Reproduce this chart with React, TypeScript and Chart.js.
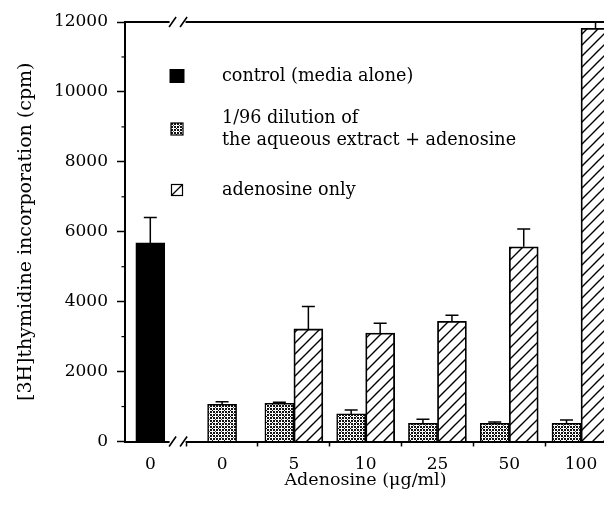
import React, { useEffect, useRef } from 'react';
import { Chart, registerables } from 'chart.js';

Chart.register(...registerables);

// ---- data ----
const categories = ['0', '0', '5', '10', '25', '50', '100'];
const controlValues = [5680, null, null, null, null, null, null];
const controlErrors = [730, null, null, null, null, null, null];
const dilutionValues = [null, 1060, 1090, 790, 520, 520, 520];
const dilutionErrors = [null, 80, 30, 110, 115, 40, 95];
const adenosineValues = [null, null, 3220, 3100, 3440, 5570, 11820];
const adenosineErrors = [null, null, 640, 280, 170, 510, 180];

const yMin = 0;
const yMax = 12000;
const yStep = 1000;
const yLabelStep = 2000;

const legendLines = [
  ['control (media alone)'],
  ['1/96 dilution of', 'the aqueous extract + adenosine'],
  ['adenosine only'],
];
const xTitle = 'Adenosine (\u03bcg/ml)';
const yTitle = '[3H]thymidine incorporation (cpm)';

const FONT = 'DejaVu Serif';

function makeDotPattern(ctx: CanvasRenderingContext2D) {
  const c = document.createElement('canvas');
  c.width = 6;
  c.height = 6;
  const g = c.getContext('2d')!;
  g.fillStyle = '#fff';
  g.fillRect(0, 0, 6, 6);
  g.fillStyle = '#111';
  g.fillRect(0, 0, 2, 2);
  g.fillRect(3, 0, 2, 2);
  g.fillRect(0, 3, 2, 2);
  g.fillRect(3, 3, 2, 2);
  g.fillRect(2, 2, 1, 1);
  g.fillStyle = '#555';
  g.fillRect(5, 5, 1, 1);
  return ctx.createPattern(c, 'repeat')!;
}

function makeHatchPattern(ctx: CanvasRenderingContext2D) {
  const s = 11;
  const c = document.createElement('canvas');
  c.width = s;
  c.height = s;
  const g = c.getContext('2d')!;
  g.fillStyle = '#fff';
  g.fillRect(0, 0, s, s);
  g.strokeStyle = '#000';
  g.lineWidth = 1.4;
  g.beginPath();
  g.moveTo(-1, s + 1);
  g.lineTo(s + 1, -1);
  g.moveTo(-s, s);
  g.lineTo(s, -s);
  g.moveTo(0, 2 * s);
  g.lineTo(2 * s, 0);
  g.stroke();
  return ctx.createPattern(c, 'repeat')!;
}

const errorBarsPlugin = {
  id: 'errorBars',
  afterDatasetsDraw(chart: any) {
    const { ctx, scales } = chart;
    ctx.save();
    ctx.strokeStyle = '#000';
    ctx.lineWidth = 1.5;
    chart.data.datasets.forEach((ds: any, di: number) => {
      const meta = chart.getDatasetMeta(di);
      meta.data.forEach((bar: any, i: number) => {
        const v = ds.data[i].y;
        const e = ds.errors[i];
        if (v == null || e == null) return;
        const yTop = scales.y.getPixelForValue(v + e);
        ctx.beginPath();
        ctx.moveTo(bar.x, bar.y);
        ctx.lineTo(bar.x, yTop);
        ctx.moveTo(bar.x - 6.5, yTop);
        ctx.lineTo(bar.x + 6.5, yTop);
        ctx.stroke();
      });
    });
    ctx.restore();
  },
};

const minorTicksPlugin = {
  id: 'minorTicks',
  afterDraw(chart: any) {
    const { ctx, scales, chartArea } = chart;
    ctx.save();
    ctx.strokeStyle = '#000';
    ctx.lineWidth = 1.2;
    scales.y.ticks.forEach((t: any) => {
      if (t.value % yLabelStep === 0) return;
      const y = scales.y.getPixelForValue(t.value);
      ctx.beginPath();
      ctx.moveTo(chartArea.left - 3.5, y);
      ctx.lineTo(chartArea.left, y);
      ctx.stroke();
    });
    ctx.restore();
  },
};

const breaksPlugin = {
  id: 'axisBreaks',
  afterDraw(chart: any) {
    const { ctx, scales, chartArea } = chart;
    const bx = scales.x.getPixelForValue(0.38);
    ctx.save();
    [chartArea.top, chartArea.bottom].forEach((y: number) => {
      ctx.fillStyle = '#fff';
      ctx.fillRect(bx - 8, y - 2.5, 16, 5);
      ctx.strokeStyle = '#000';
      ctx.lineWidth = 1.6;
      ctx.beginPath();
      [-5, 6].forEach((dx) => {
        ctx.moveTo(bx + dx - 3.5, y + 5);
        ctx.lineTo(bx + dx + 3.5, y - 5);
      });
      ctx.stroke();
    });
    ctx.restore();
  },
};

const legendPlugin = {
  id: 'insideLegend',
  afterDraw(chart: any) {
    const { ctx, chartArea } = chart;
    const sx = chartArea.left + 52;
    const tx = chartArea.left + 97;
    const rows = [chartArea.top + 54, chartArea.top + 107, chartArea.top + 168];
    ctx.save();
    ctx.font = `17.6px "${FONT}"`;
    ctx.fillStyle = '#000';
    ctx.textBaseline = 'middle';
    ctx.textAlign = 'left';
    chart.data.datasets.forEach((ds: any, i: number) => {
      const lines = ds.legendLines as string[];
      const cy = rows[i];
      const lh = 22;
      const first = cy - ((lines.length - 1) * lh) / 2;
      ctx.fillStyle = '#000';
      lines.forEach((ln, k) => ctx.fillText(ln, tx, first + k * lh));
      if (ds.swatch === 'solid') {
        ctx.fillStyle = '#000';
        ctx.fillRect(sx - 7.5, cy - 7, 15, 14);
      } else if (ds.swatch === 'dots') {
        ctx.fillStyle = ds.backgroundColor;
        ctx.fillRect(sx - 6, cy - 6, 12, 12);
        ctx.strokeStyle = '#000';
        ctx.lineWidth = 1.2;
        ctx.strokeRect(sx - 6, cy - 6, 12, 12);
      } else {
        ctx.fillStyle = '#fff';
        ctx.fillRect(sx - 5.5, cy - 5.5, 11, 11);
        ctx.strokeStyle = '#000';
        ctx.lineWidth = 1.2;
        ctx.strokeRect(sx - 5.5, cy - 5.5, 11, 11);
        ctx.beginPath();
        ctx.moveTo(sx - 5.5, cy + 5.5);
        ctx.lineTo(sx + 5.5, cy - 5.5);
        ctx.stroke();
      }
    });
    ctx.restore();
  },
};

export default function App() {
  const ref = useRef<HTMLCanvasElement>(null);

  useEffect(() => {
    const canvas = ref.current!;
    const c2d = canvas.getContext('2d')!;
    const dots = makeDotPattern(c2d);
    const hatch = makeHatchPattern(c2d);
    const toPoints = (vals: (number | null)[]) => vals.map((v, i) => ({ x: i, y: v }));

    const datasets: any[] = [
      {
        label: legendLines[0].join(' '),
        legendLines: legendLines[0],
        data: toPoints(controlValues),
        errors: controlErrors,
        backgroundColor: '#000',
        borderColor: '#000',
        borderWidth: 1.5,
        swatch: 'solid',
      },
      {
        label: legendLines[1].join(' '),
        legendLines: legendLines[1],
        data: toPoints(dilutionValues),
        errors: dilutionErrors,
        backgroundColor: dots,
        borderColor: '#000',
        borderWidth: 1.5,
        swatch: 'dots',
      },
      {
        label: legendLines[2].join(' '),
        legendLines: legendLines[2],
        data: toPoints(adenosineValues),
        errors: adenosineErrors,
        backgroundColor: hatch,
        borderColor: '#000',
        borderWidth: 1.8,
        swatch: 'hatch',
      },
    ];

    const tickFont = { family: FONT, size: 17 };

    const chart = new Chart(canvas, {
      type: 'bar',
      data: { datasets },
      options: {
        animation: false,
        responsive: true,
        maintainAspectRatio: false,
        layout: { padding: { top: 22, right: 6, left: 0, bottom: 0 } },
        plugins: { legend: { display: false }, tooltip: { enabled: false } },
        datasets: { bar: { barThickness: 29, skipNull: true, grouped: true, borderSkipped: 'start' } },
        scales: {
          x: {
            type: 'linear',
            offset: false,
            min: -0.3525,
            max: 6.348,
            afterBuildTicks: (s: any) => {
              s.ticks = categories.map((_, i) => ({ value: i }));
            },
            afterFit: (s: any) => {
              s.height = 64.5;
            },
            grid: {
              display: true,
              drawOnChartArea: false,
              drawTicks: true,
              tickLength: 5,
              offset: true,
              color: '#000',
              tickWidth: 1.5,
            },
            border: { display: true, color: '#000', width: 2 },
            ticks: {
              callback: (v: any) => categories[v] ?? '',
              color: '#000',
              font: tickFont,
              padding: 8,
              maxRotation: 0,
              autoSkip: false,
            },
            title: {
              display: true,
              text: xTitle,
              color: '#000',
              font: { family: FONT, size: 17.5 },
              padding: { top: 0, bottom: 15 },
            },
          },
          x2: {
            type: 'linear',
            position: 'top',
            display: true,
            grid: { display: false, drawTicks: false },
            ticks: { display: false },
            border: { display: true, color: '#000', width: 2 },
            afterFit: (s: any) => {
              s.height = 0;
            },
          },
          y: {
            type: 'linear',
            min: yMin,
            max: yMax,
            afterFit: (s: any) => {
              s.width = 125;
            },
            ticks: {
              stepSize: yStep,
              callback: (v: any) => (v % yLabelStep === 0 ? String(v) : ''),
              color: '#000',
              font: tickFont,
              padding: 9,
            },
            grid: {
              display: true,
              drawOnChartArea: false,
              drawTicks: true,
              tickLength: 8,
              tickWidth: 1.5,
              tickColor: (ctx: any) =>
                ctx.tick && ctx.tick.value % yLabelStep === 0 ? '#000' : 'rgba(0,0,0,0)',
            },
            border: { display: true, color: '#000', width: 2 },
            title: {
              display: true,
              text: yTitle,
              color: '#000',
              font: { family: FONT, size: 19 },
              padding: { top: 15, bottom: 0 },
            },
          },
        },
      } as any,
      plugins: [errorBarsPlugin, minorTicksPlugin, breaksPlugin, legendPlugin],
    });

    return () => chart.destroy();
  }, []);

  return (
    <div
      style={{
        position: 'fixed',
        left: 0,
        top: 0,
        width: 604,
        height: 506,
        overflow: 'hidden',
        background: '#fff',
      }}
    >
      <div style={{ position: 'relative', width: 612, height: 506 }}>
        <canvas ref={ref} />
      </div>
    </div>
  );
}
